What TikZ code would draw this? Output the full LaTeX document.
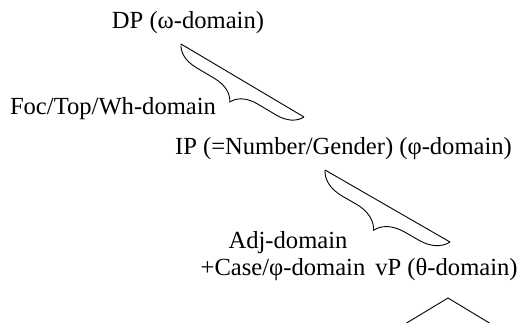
\documentclass[tikz,border=0pt]{standalone}
\usepackage{fontspec}
\setmainfont{Liberation Serif}
\usetikzlibrary{decorations.pathreplacing}

\begin{document}
\begin{tikzpicture}[x=1pt,y=-1pt,
					every node/.style={inner sep=0pt,anchor=base,font=\fontsize{24.6}{27}\selectfont},
					branch/.style={line width=0.9pt},
					domain brace/.style={line width=0.9pt,decorate,decoration={brace,mirror,amplitude=#1}}]
					\useasboundingbox (0,0) rectangle (519,323);
					\node (dp) at (188,29) {DP (ω-domain)};
					\node (foc) at (113,115) {Foc/Top/Wh-domain};
					\node (ip) at (343.5,155) {IP (=Number/Gender) (φ-domain)};
					\node (adj) at (288,248) {Adj-domain};
					\node (case) at (283,275) {+Case/φ-domain};
					\node (vp) at (446.5,275) {vP (θ-domain)};
					\coordinate (dp-foot) at (181,44);
					\coordinate (ip-head) at (304,117);
					\coordinate (ip-foot) at (325,170);
					\coordinate (vp-head) at (450,242);
					\coordinate (vp-foot) at (448,298);
					\coordinate (vp-left) at (405,324);
					\coordinate (vp-right) at (491,324);
					\draw[branch] (dp-foot) -- (ip-head);
					\draw[domain brace=25pt] (dp-foot) -- (ip-head);
					\draw[branch] (ip-foot) -- (vp-head);
					\draw[domain brace=28pt] (ip-foot) -- (vp-head);
					\draw[branch] (vp-left) -- (vp-foot) -- (vp-right);
\end{tikzpicture}
\end{document}
